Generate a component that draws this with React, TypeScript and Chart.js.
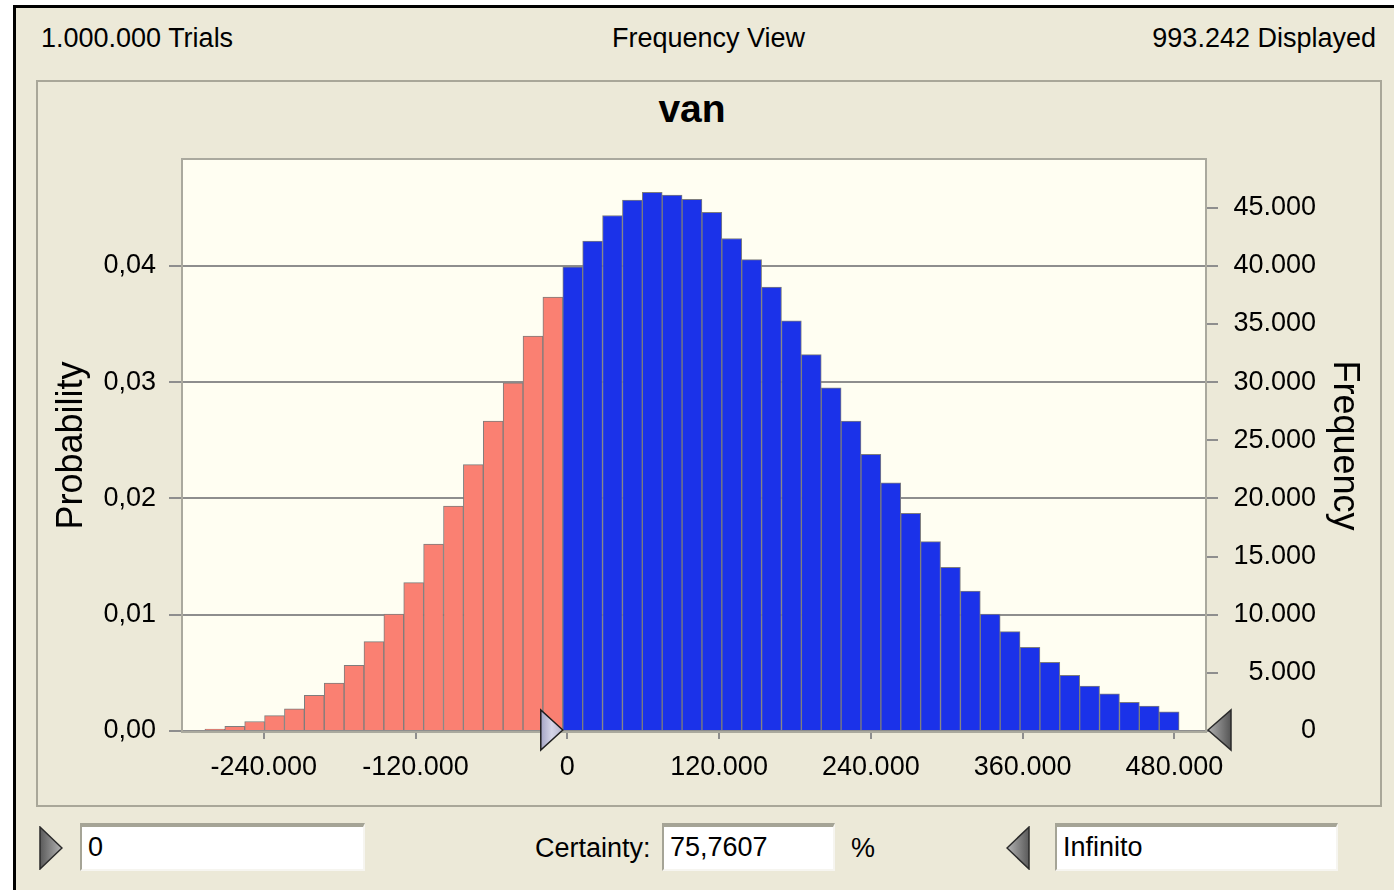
import React, { useEffect, useRef } from "react";
import { Chart, registerables } from "chart.js";

Chart.register(...registerables);

// ---- Data ----
const binCenters = [
  -278700, -262980, -247260, -231540, -215820, -200100, -184380, -168660, -152940, -137220,
  -121500, -105780, -90060, -74340, -58620, -42900, -27180, -11460, 4260, 19980,
  35700, 51420, 67140, 82860, 98580, 114300, 130020, 145740, 161460, 177180,
  192900, 208620, 224340, 240060, 255780, 271500, 287220, 302940, 318660, 334380,
  350100, 365820, 381540, 397260, 412980, 428700, 444420, 460140, 475860,
];
const frequencies = [
  160, 400, 820, 1320, 1910, 3070, 4120, 5640, 7680, 10050,
  12760, 16080, 19350, 22900, 26660, 29930, 33950, 37310, 39910, 42120,
  44330, 45650, 46310, 46080, 45710, 44590, 42350, 40540, 38170, 35270,
  32370, 29500, 26660, 23800, 21330, 18720, 16280, 14070, 12030, 10050,
  8540, 7190, 5900, 4780, 3860, 3200, 2470, 2140, 1650,
];
const xTickValues = [-240000, -120000, 0, 120000, 240000, 360000, 480000];
const freqTickValues = [0, 5000, 10000, 15000, 20000, 25000, 30000, 35000, 40000, 45000];
const probTickValues = [0, 0.01, 0.02, 0.03, 0.04];
const totalTrials = 1000000;
const freqAxisMax = 49100;
const xAxisMin = -303900;
const xAxisMax = 504200;
const certaintyLow = 0;

const headerTrials = "1.000.000 Trials";
const headerView = "Frequency View";
const headerDisplayed = "993.242 Displayed";
const chartTitle = "van";
const lowerValue = "0";
const certaintyValue = "75,7607";
const upperValue = "Infinito";

// ---- Styles ----
const FONT = "'Liberation Sans', Arial, Helvetica, sans-serif";
const RED = "#FA8072";
const BLUE = "#1B32E9";
const GRID = "#8e8e8e";
const BAR_BORDER = "#7d7d7d";
const PLOT_BG = "#FFFEF2";
const BEIGE = "#ECE9D8";

const fmtThousands = (v: number) => {
  const s = Math.round(Math.abs(v))
    .toString()
    .replace(/\B(?=(\d{3})+(?!\d))/g, ".");
  return (v < 0 ? "-" : "") + s;
};

const framePlugin = {
  id: "frameAndMarkers",
  beforeDraw(chart: any) {
    const { ctx, chartArea: a } = chart;
    ctx.save();
    ctx.fillStyle = PLOT_BG;
    ctx.fillRect(a.left, a.top, a.right - a.left, a.bottom - a.top);
    ctx.restore();
  },
  afterDraw(chart: any) {
    const { ctx, chartArea: a } = chart;
    const xs = chart.scales.x;
    ctx.save();
    ctx.strokeStyle = "#aaa99e";
    ctx.lineWidth = 2;
    ctx.strokeRect(a.left - 1, a.top - 1, a.right - a.left + 2, a.bottom - a.top + 2);

    // lower certainty grabber at the edge of the first bin inside the range
    const binWidth = binCenters[1] - binCenters[0];
    const firstIn = binCenters.findIndex((c) => c >= certaintyLow);
    const tipX = xs.getPixelForValue(binCenters[firstIn] - binWidth / 2);
    const cy = a.bottom - 1;
    let g = ctx.createLinearGradient(tipX - 22, 0, tipX, 0);
    g.addColorStop(0, "#a4a4c4");
    g.addColorStop(0.5, "#d6d6e8");
    g.addColorStop(1, "#b4b4cc");
    ctx.beginPath();
    ctx.moveTo(tipX, cy);
    ctx.lineTo(tipX - 22, cy - 20);
    ctx.lineTo(tipX - 22, cy + 20);
    ctx.closePath();
    ctx.fillStyle = g;
    ctx.fill();
    ctx.strokeStyle = "#1e1e1e";
    ctx.lineWidth = 1.5;
    ctx.stroke();

    // upper grabber (infinite) at the right end
    const rx = a.right + 3;
    g = ctx.createLinearGradient(rx, 0, rx + 23, 0);
    g.addColorStop(0, "#b0b0b0");
    g.addColorStop(0.6, "#7a7a7a");
    g.addColorStop(1, "#555555");
    ctx.beginPath();
    ctx.moveTo(rx, cy);
    ctx.lineTo(rx + 23, cy - 20);
    ctx.lineTo(rx + 23, cy + 20);
    ctx.closePath();
    ctx.fillStyle = g;
    ctx.fill();
    ctx.strokeStyle = "#2a2a2a";
    ctx.stroke();
    ctx.restore();
  },
};

type LabelProps = {
  x: number;
  y: number;
  text: string;
  align?: "left" | "center" | "right";
  size?: number;
  bold?: boolean;
};

function Label({ x, y, text, align = "left", size = 27, bold = false }: LabelProps) {
  const lh = Math.round(size * 1.2);
  const style: React.CSSProperties = {
    position: "absolute",
    top: y - lh / 2,
    height: lh,
    lineHeight: lh + "px",
    fontSize: size,
    fontWeight: bold ? "bold" : "normal",
    whiteSpace: "nowrap",
    color: "#000",
  };
  if (align === "left") style.left = x;
  else if (align === "right") style.right = 1394 - x;
  else {
    style.left = x;
    style.transform = "translateX(-50%)";
  }
  return <div style={style}>{text}</div>;
}

function Grip({ x, y, dir, id }: { x: number; y: number; dir: "right" | "left"; id: string }) {
  const w = 24;
  const h = 44;
  const pts = dir === "right" ? `1,1 ${w - 1},${h / 2} 1,${h - 1}` : `${w - 1},1 1,${h / 2} ${w - 1},${h - 1}`;
  return (
    <svg style={{ position: "absolute", left: x, top: y }} width={w} height={h}>
      <defs>
        <linearGradient id={id} x1="0" y1="0" x2="1" y2="0">
          <stop offset="0" stopColor={dir === "right" ? "#5a5a5a" : "#b4b4b4"} />
          <stop offset="1" stopColor={dir === "right" ? "#b4b4b4" : "#5a5a5a"} />
        </linearGradient>
      </defs>
      <polygon points={pts} fill={`url(#${id})`} stroke="#2a2a2a" strokeWidth={1.5} />
    </svg>
  );
}

function Box({ x, w, text }: { x: number; w: number; text: string }) {
  return (
    <div
      style={{
        position: "absolute",
        left: x,
        top: 823,
        width: w,
        height: 48,
        boxSizing: "border-box",
        background: "#fff",
        borderTop: "4px solid #a5a496",
        borderLeft: "2px solid #a5a496",
        borderRight: "2px solid #f6f5f0",
        borderBottom: "2px solid #f6f5f0",
        paddingLeft: 6,
        fontSize: 27,
        lineHeight: "40px",
        whiteSpace: "nowrap",
        color: "#000",
      }}
    >
      {text}
    </div>
  );
}

export default function App() {
  const canvasRef = useRef<HTMLCanvasElement>(null);

  useEffect(() => {
    if (!canvasRef.current) return;
    Chart.defaults.font.family = FONT;
    Chart.defaults.color = "#000";
    const tickFont = { size: 27, family: FONT };
    const titleFont = { size: 36, family: FONT };

    const chart = new Chart(canvasRef.current, {
      type: "bar",
      data: {
        datasets: [
          {
            data: binCenters.map((x, i) => ({ x, y: frequencies[i] })),
            backgroundColor: binCenters.map((c) => (c >= certaintyLow ? BLUE : RED)),
            borderColor: BAR_BORDER,
            borderWidth: 1,
            barPercentage: 1,
            categoryPercentage: 1,
            xAxisID: "x",
            yAxisID: "yFreq",
          } as any,
        ],
      },
      options: {
        animation: false,
        responsive: false,
        devicePixelRatio: 1,
        events: [],
        layout: { padding: { left: 0, right: 64, top: 76, bottom: 0 } },
        plugins: {
          legend: { display: false },
          tooltip: { enabled: false },
          title: { display: false },
        },
        scales: {
          x: {
            type: "linear",
            min: xAxisMin,
            max: xAxisMax,
            offset: false,
            grid: {
              offset: false,
              display: true,
              drawOnChartArea: false,
              drawTicks: true,
              tickLength: 8,
              color: GRID,
              lineWidth: 2,
            },
            border: { display: false },
            ticks: {
              padding: 12,
              font: tickFont,
              color: "#000",
              maxRotation: 0,
              autoSkip: false,
              callback: (v: any) => fmtThousands(Number(v)),
            },
            afterBuildTicks: (s: any) => {
              s.ticks = xTickValues.map((v) => ({ value: v }));
            },
            afterFit: (s: any) => {
              s.height = 69;
            },
          },
          yProb: {
            type: "linear",
            position: "left",
            min: 0,
            max: freqAxisMax / totalTrials,
            grid: {
              color: GRID,
              lineWidth: 2,
              tickLength: 14,
              drawOnChartArea: true,
              drawTicks: true,
            },
            border: { display: false },
            ticks: {
              padding: 13,
              font: tickFont,
              color: "#000",
              callback: (v: any) => Number(v).toFixed(2).replace(".", ","),
            },
            afterBuildTicks: (s: any) => {
              s.ticks = probTickValues.map((v) => ({ value: v }));
            },
            title: {
              display: true,
              text: "Probability",
              font: titleFont,
              color: "#000",
              padding: { top: 10, bottom: 0 },
            },
            afterFit: (s: any) => {
              s.width = 143;
            },
          },
          yFreq: {
            type: "linear",
            position: "right",
            min: 0,
            max: freqAxisMax,
            grid: {
              drawOnChartArea: false,
              drawTicks: true,
              tickLength: 13,
              color: GRID,
              lineWidth: 2,
            },
            border: { display: false },
            ticks: {
              crossAlign: "far",
              font: tickFont,
              color: "#000",
              callback: (v: any) => fmtThousands(Number(v)),
            },
            afterBuildTicks: (s: any) => {
              s.ticks = freqTickValues.map((v) => ({ value: v }));
            },
            title: {
              display: true,
              text: "Frequency",
              font: titleFont,
              color: "#000",
              padding: { top: -50, bottom: 0 },
            },
            afterFit: (s: any) => {
              s.width = 111;
            },
          },
        },
      } as any,
      plugins: [framePlugin],
    });
    return () => chart.destroy();
  }, []);

  return (
    <div
      style={{
        position: "absolute",
        left: 0,
        top: 0,
        width: 1394,
        height: 890,
        background: "#fff",
        overflow: "hidden",
        fontFamily: FONT,
      }}
    >
      <div
        style={{
          position: "absolute",
          left: 13,
          top: 5,
          right: 0,
          bottom: 0,
          background: BEIGE,
          borderTop: "3px solid #000",
          borderLeft: "3px solid #000",
        }}
      />
      <Label x={41} y={38} text={headerTrials} />
      <Label x={708.5} y={38} text={headerView} align="center" />
      <Label x={1376} y={38} text={headerDisplayed} align="right" />

      <div
        style={{
          position: "absolute",
          left: 36,
          top: 80,
          width: 1346,
          height: 727,
          boxSizing: "border-box",
          border: "2px solid #a9a799",
        }}
      />
      <Label x={692} y={108} text={chartTitle} align="center" size={39} bold />
      <canvas
        ref={canvasRef}
        width={1340}
        height={716}
        style={{ position: "absolute", left: 40, top: 84, width: 1340, height: 716 }}
      />

      <Grip x={39} y={826} dir="right" id="gripL" />
      <Box x={80} w={285} text={lowerValue} />
      <Label x={535} y={848} text="Certainty:" />
      <Box x={662} w={173} text={certaintyValue} />
      <Label x={851} y={848} text="%" />
      <Grip x={1006} y={826} dir="left" id="gripR" />
      <Box x={1055} w={283} text={upperValue} />
    </div>
  );
}
